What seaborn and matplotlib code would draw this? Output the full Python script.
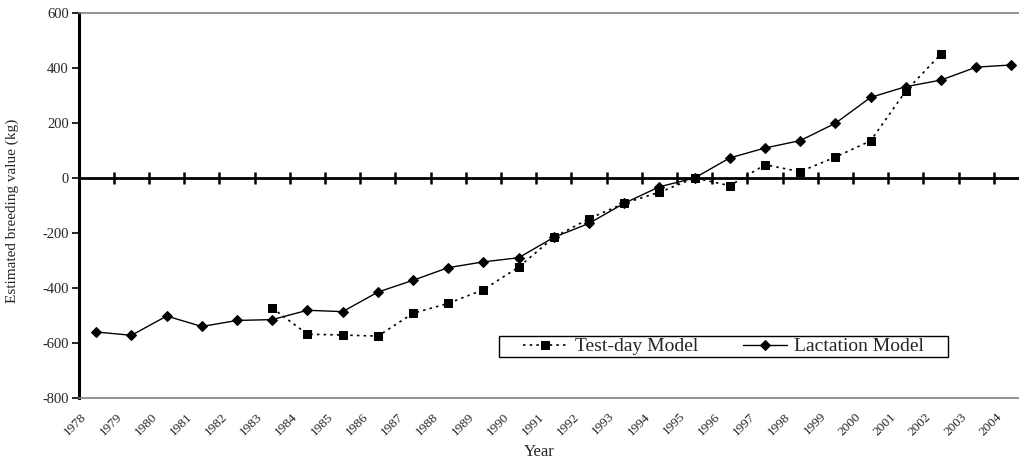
import matplotlib
matplotlib.use("Agg")
import matplotlib.pyplot as plt
from matplotlib.patches import Rectangle
import seaborn as sns
import pandas as pd

years = list(range(1978, 2005))
lactation = [-560, -572, -502, -540, -518, -515, -481, -486, -415, -372, -326, -305,
             -290, -216, -165, -92, -32, 0, 73, 109, 136, 199, 293, 332, 356, 403, 411]
test_years = list(range(1983, 2003))
testday = [-473, -568, -571, -575, -492, -456, -406, -324, -216, -148, -92, -52,
           0, -28, 48, 23, 76, 135, 316, 451]
yticks = [-800, -600, -400, -200, 0, 200, 400, 600]

sns.set_theme(style="white")
plt.rcParams['font.family'] = ['Liberation Serif', 'DejaVu Serif']

fig = plt.figure(figsize=(10.19, 4.65), dpi=100)
ax = fig.add_axes([0.0772, 0.1441, 0.9326, 0.828])

df_t = pd.DataFrame({"Year": test_years, "v": testday})
df_l = pd.DataFrame({"Year": years, "v": lactation})

sns.lineplot(data=df_t, x="Year", y="v", ax=ax, color="black", linestyle=(0, (1.5, 2.5)),
             linewidth=1.2, marker="s", markersize=6, markeredgecolor="black",
             label="Test-day Model", zorder=3)
sns.lineplot(data=df_l, x="Year", y="v", ax=ax, color="black", linestyle="-",
             linewidth=1.0, marker="D", markersize=5, markeredgecolor="black",
             label="Lactation Model", zorder=4)

ax.set_xlim(1977.5, 2004.5)
ax.set_ylim(-800, 600)
ax.set_yticks(yticks)
ax.set_yticklabels([str(v) for v in yticks], fontsize=10.5)
ax.tick_params(axis='y', direction='out', length=5, width=1.2, color='black', pad=2, left=True)

# category labels, anchored slightly left of each category centre (Excel style)
ax.set_xticks([y - 0.45 for y in years])
ax.set_xticklabels([str(y) for y in years], fontsize=9.5, rotation=45, ha='right',
                   va='top', rotation_mode='anchor')
ax.tick_params(axis='x', length=0, pad=9)

for s in ['top', 'bottom']:
    ax.spines[s].set_color('#808080')
    ax.spines[s].set_linewidth(1.2)
ax.spines['right'].set_visible(False)
ax.spines['left'].set_color('black')
ax.spines['left'].set_linewidth(2.2)

# zero axis with category boundary ticks
ax.axhline(0, color='black', linewidth=2.0, zorder=2)
sec = ax.secondary_xaxis(800 / 1400)
sec.set_xticks([y + 0.5 for y in years])
sec.set_xticklabels([])
sec.tick_params(direction='inout', length=9, width=1.8, color='black')
for s in sec.spines.values():
    s.set_visible(False)

ax.set_xlabel("Year", fontsize=12)
ax.xaxis.set_label_coords(0.485, -0.12)
ax.set_ylabel("Estimated breeding value (kg)", fontsize=11)
ax.yaxis.set_label_coords(-0.063, 0.486)

# legend frame
ax.add_patch(Rectangle((0.442, 0.106), 0.473, 0.055, transform=ax.transAxes,
                       facecolor='white', edgecolor='black', linewidth=1.0, zorder=5))
leg = ax.legend(loc='center', bbox_to_anchor=(0.6785, 0.1335), ncol=2, fontsize=14,
                frameon=False, borderpad=0.0, handlelength=2.3, handletextpad=0.35,
                columnspacing=2.3, borderaxespad=0)
leg.set_zorder(6)

fig.savefig("out.png", dpi=100)
